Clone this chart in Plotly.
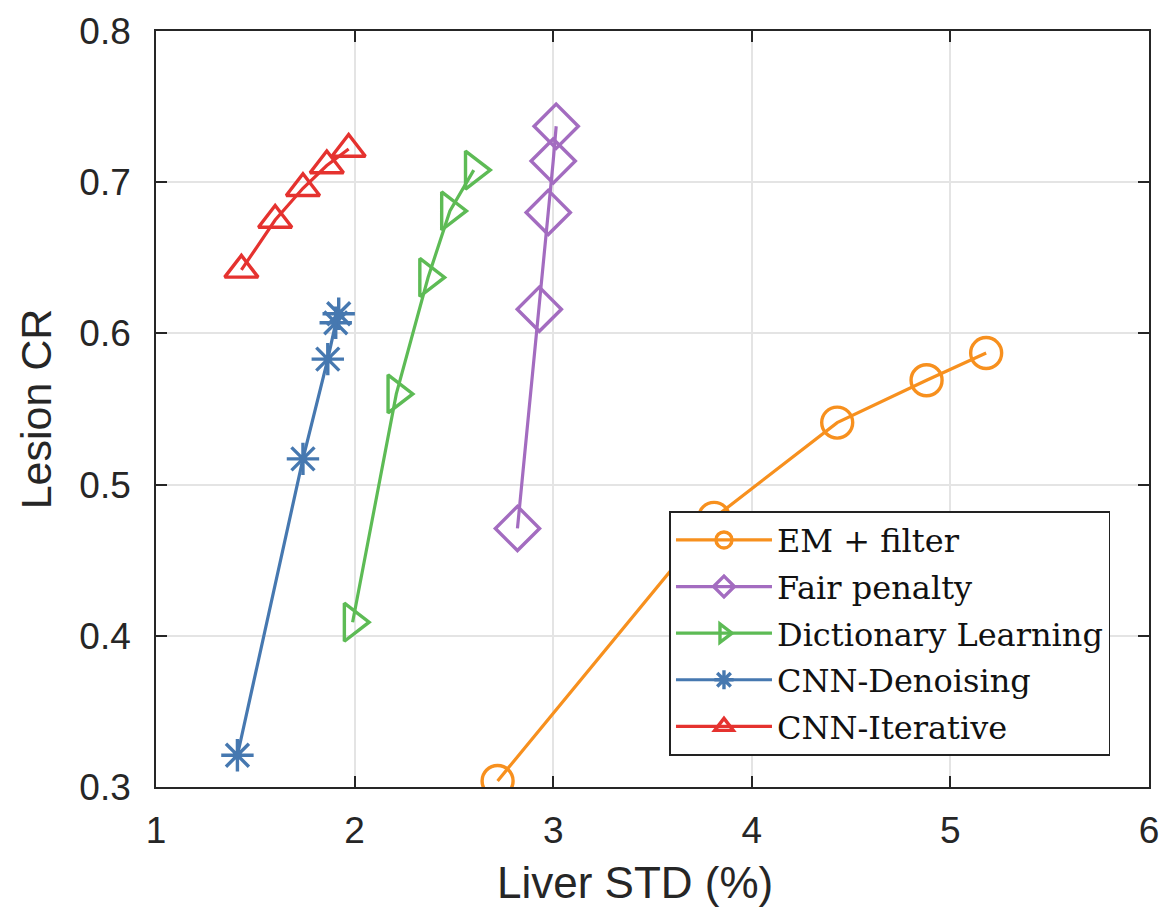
import plotly.graph_objects as go

em_x = [2.72, 3.81, 4.43, 4.88, 5.18]
em_y = [0.304, 0.478, 0.541, 0.569, 0.587]
fair_x = [2.82, 2.93, 2.975, 3.0, 3.015]
fair_y = [0.471, 0.616, 0.680, 0.714, 0.737]
dict_x = [1.99, 2.21, 2.37, 2.48, 2.60]
dict_y = [0.409, 0.560, 0.637, 0.681, 0.708]
dn_x = [1.41, 1.74, 1.865, 1.905, 1.92]
dn_y = [0.321, 0.517, 0.583, 0.607, 0.613]
it_x = [1.43, 1.60, 1.74, 1.86, 1.97]
it_y = [0.642, 0.675, 0.696, 0.711, 0.722]

series = [
    ("EM + filter", em_x, em_y, "#F7901E", "circle-open", 31),
    ("Fair penalty", fair_x, fair_y, "#A36CC0", "diamond-open", 34),
    ("Dictionary Learning", dict_x, dict_y, "#5DBB55", "triangle-right-open", 33),
    ("CNN-Denoising", dn_x, dn_y, "#4678B0", "asterisk-open", 27),
    ("CNN-Iterative", it_x, it_y, "#E5322F", "triangle-up-open", 29),
]

fig = go.Figure()
for name, xs, ys, col, sym, sz in series:
    fig.add_trace(go.Scatter(
        x=xs, y=ys, mode="lines+markers", name=name, legendgroup=name,
        line=dict(color=col, width=3.2),
        marker=dict(symbol=sym, size=sz, color=col, line=dict(color=col, width=3.4)),
    ))

sans = "Liberation Sans, Arial, sans-serif"
axis_common = dict(
    showline=True, linecolor="#262626", linewidth=1.6, mirror="ticks",
    ticks="inside", ticklen=11, tickcolor="#262626", tickwidth=1.6,
    showgrid=True, gridcolor="#E4E4E4", gridwidth=1.5, zeroline=False,
    ticklabeloverflow="allow", automargin=False,
    tickfont=dict(family=sans, size=37, color="#262626"),
)

fig.update_layout(
    width=1169, height=910,
    margin=dict(l=148, r=28, t=23, b=131, autoexpand=False),
    paper_bgcolor="white", plot_bgcolor="white",
    xaxis=dict(range=[1, 6], dtick=1, ticklabelstandoff=10, **axis_common),
    yaxis=dict(range=[0.3, 0.8], dtick=0.1, tickformat=".1f", ticklabelstandoff=16,
               title=dict(text="Lesion CR", standoff=14,
                          font=dict(family=sans, size=43, color="#262626")),
               **axis_common),
    legend=dict(x=0.517, y=0.365, xanchor="left", yanchor="top",
                bgcolor="white", bordercolor="#222", borderwidth=1.6,
                font=dict(family="DejaVu Serif, serif", size=32, color="#111"),
                itemwidth=96, tracegroupgap=2),
    showlegend=True,
    annotations=[dict(text="Liver STD (%)", x=0.482, y=0, xref="paper", yref="paper",
                      xanchor="center", yanchor="middle", yshift=-95, showarrow=False,
                      font=dict(family=sans, size=44, color="#262626"))],
)

fig.write_html("out.html")
